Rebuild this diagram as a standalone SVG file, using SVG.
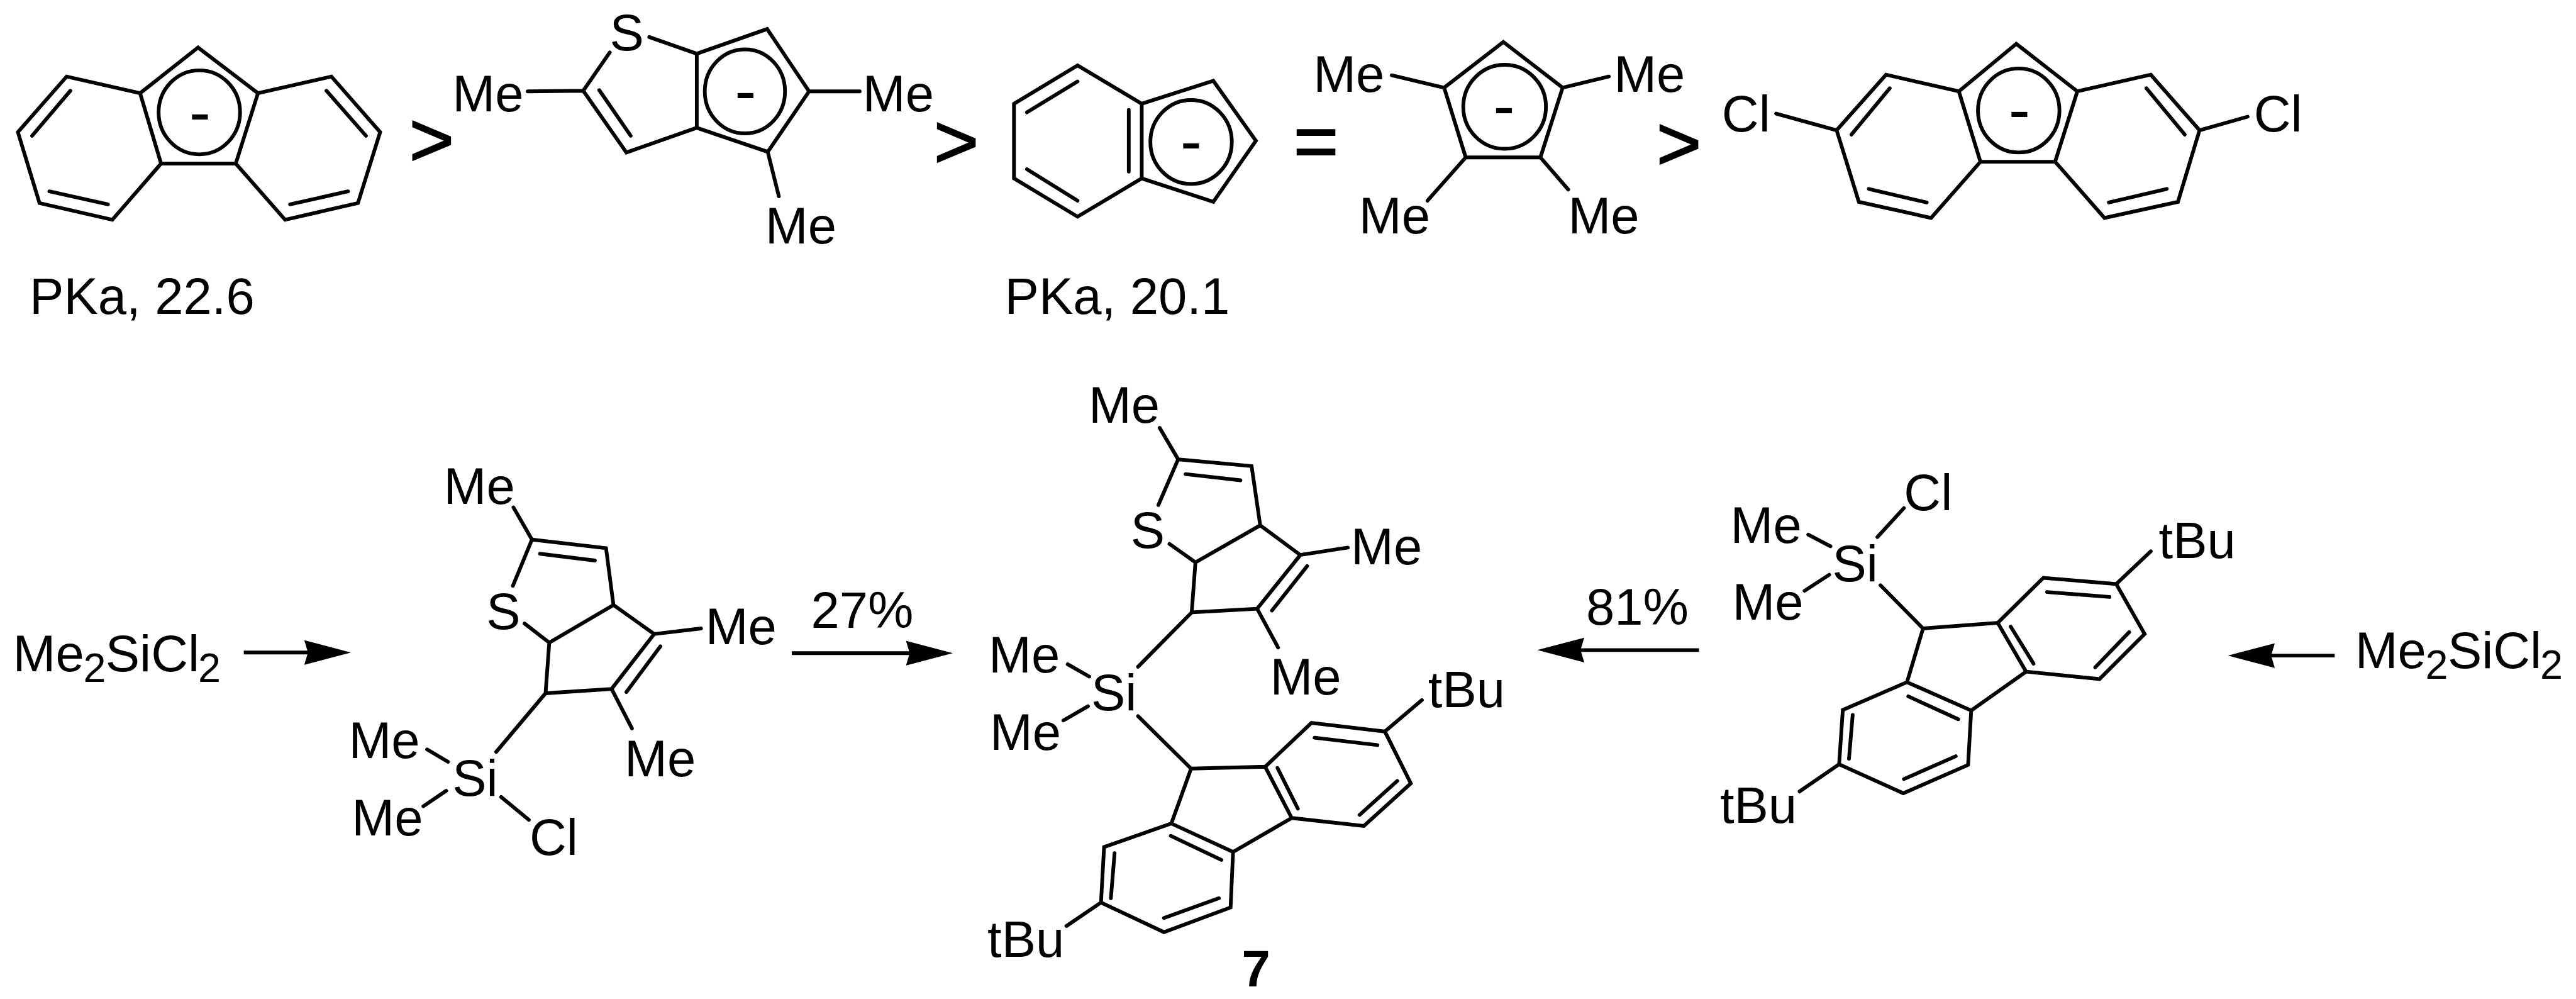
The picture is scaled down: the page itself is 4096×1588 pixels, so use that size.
<svg xmlns="http://www.w3.org/2000/svg" width="4096" height="1588" viewBox="0 0 4096 1588">
<style>
text{font-family:"Liberation Sans",Arial,sans-serif;font-size:83px;fill:#000}
.sub{font-size:66px}
.b{font-weight:bold}
.op{font-size:125px;stroke:#000;stroke-width:2}
.minus{font-size:105px;text-anchor:middle}
.bond{fill:none;stroke:#000;stroke-width:6;stroke-linecap:round;stroke-linejoin:miter;stroke-miterlimit:6}
.ring{fill:none;stroke:#000;stroke-width:6}
.arrow{stroke:#000;stroke-width:6;fill:none;marker-end:url(#head)}
</style>
<defs>
<marker id="head" markerUnits="userSpaceOnUse" viewBox="0 0 76 40" refX="7" refY="20" markerWidth="76" markerHeight="40" orient="auto"><path d="M76,20 L0,0 L6,20 L0,40 Z" fill="#000"/></marker>
</defs>
<rect width="4096" height="1588" fill="#fff"/>
<g transform="scale(0.98131)">
<g id="fluorenyl-anion">
<path class="bond" d="M321,77 L418,151 L382,265 L261,265 L227,151 Z M227,151 L108,124 L29,214 L64,329 L182,356 L261,265 M418,151 L537,124 L616,214 L580,329 L462,356 L382,265 M114,147 L52,220 M80,310 L175,331 M529,147 L593,220 M564,310 L470,331"/>
<ellipse class="ring" cx="323" cy="182" rx="66" ry="68"/>
<text class="minus" x="324" y="218">-</text>
<text x="48" y="509">PKa, 22.6</text>
</g>
<g id="gt-1"><text class="op" x="663" y="269">&gt;</text></g>
<g id="thienyl-anion">
<path class="bond" d="M988,85 L945,147 L1015,247 L1129,207 L1129,87 L1052,60 M1129,207 L1244,246 L1311,148 L1243,47 L1129,87 M945,147 L855,148 M971,146 L1022,220 M1311,148 L1393,148 M1244,246 L1262,318"/>
<ellipse class="ring" cx="1207" cy="148" rx="65" ry="68"/>
<text class="minus" x="1208" y="183">-</text>
<text x="988" y="82">S</text>
<text x="733" y="180">Me</text>
<text x="1398" y="180">Me</text>
<text x="1240" y="394">Me</text>
</g>
<g id="gt-2"><text class="op" x="1513" y="272">&gt;</text></g>
<g id="indenyl-anion">
<path class="bond" d="M1746,106 L1643,168 L1643,289 L1746,351 L1850,289 L1850,168 Z M1850,168 L1966,131 L2035,228 L1966,327 L1850,289 M1746,132 L1664,182 M1664,274 L1746,325 M1829,178 L1829,278"/>
<ellipse class="ring" cx="1930" cy="230" rx="66" ry="68"/>
<text class="minus" x="1930" y="265">-</text>
<text x="1628" y="509">PKa, 20.1</text>
</g>
<g id="equals"><text class="op" x="2096" y="272">=</text></g>
<g id="cp-anion">
<path class="bond" d="M2436,68 L2532,142 L2496,255 L2375,255 L2340,142 Z M2340,142 L2255,122 M2532,142 L2607,124 M2375,255 L2313,325 M2496,255 L2541,307"/>
<ellipse class="ring" cx="2438" cy="173" rx="67" ry="68"/>
<text class="minus" x="2437" y="208">-</text>
<text x="2128" y="149">Me</text>
<text x="2615" y="149">Me</text>
<text x="2202" y="378">Me</text>
<text x="2541" y="378">Me</text>
</g>
<g id="gt-3"><text class="op" x="2684" y="275">&gt;</text></g>
<g id="dichlorofluorenyl-anion">
<path class="bond" d="M3267,71 L3366,148 L3330,262 L3209,262 L3174,148 Z M3174,148 L3056,121 L2976,211 L3012,327 L3129,353 L3209,262 M3366,148 L3485,121 L3564,211 L3529,327 L3410,353 L3330,262 M2976,211 L2878,184 M3564,211 L3642,189 M3062,143 L3000,218 M3028,306 L3122,328 M3478,143 L3540,218 M3511,306 L3417,328"/>
<ellipse class="ring" cx="3271" cy="179" rx="66" ry="68"/>
<text class="minus" x="3272" y="214">-</text>
<text x="2790" y="213">Cl</text>
<text x="3652" y="213">Cl</text>
</g>
<g id="reagent-left"><text x="21" y="1087">Me<tspan class="sub" x="135" y="1105">2</tspan><tspan x="171" y="1087">SiCl</tspan><tspan class="sub" x="321" y="1105">2</tspan></text></g>
<g id="chlorosilane-left">
<path class="bond" d="M832,822 L862,874 L982,888 L994,980 L890,1041 L884,1123 L991,1116 L1060,1027 L994,980 M862,874 L831,949 M850,1010 L890,1041 M875,897 L964,908 M1060,1027 L1136,1018 M1070,1047 L1015,1121 M991,1116 L1024,1180 M884,1123 L804,1218 M692,1214 L726,1234 M723,1281 L686,1306 M812,1291 L857,1328"/>
<text x="719" y="816">Me</text>
<text x="788" y="1019">S</text>
<text x="1143" y="1044">Me</text>
<text x="1012" y="1257">Me</text>
<text x="733" y="1289">Si</text>
<text x="565" y="1228">Me</text>
<text x="570" y="1353">Me</text>
<text x="858" y="1385">Cl</text>
</g>
<g id="compound-7">
<path class="bond" d="M1879,693 L1909,744 L2028,755 L2042,851 L1937,911 L1931,992 L2037,986 L2107,899 L2042,851 M1909,744 L1877,818 M1895,881 L1937,911 M1921,768 L2010,778 M2107,899 L2184,887 M2118,917 L2061,989 M2037,986 L2071,1049 M1931,992 L1844,1080 M1730,1076 L1765,1096 M1763,1144 L1723,1167 M1844,1160 L1930,1245 L2050,1242 L2093,1325 L1998,1380 L1898,1334 L1930,1245 M2070,1244 L2103,1310 M1897,1354 L1979,1393 M2050,1242 L2125,1171 L2244,1185 L2286,1269 L2210,1338 L2093,1325 M2130,1195 L2232,1207 M2264,1265 L2203,1320 M2244,1185 L2304,1134 M1898,1334 L1789,1372 L1784,1462 L1886,1510 L1994,1470 L1998,1380 M1806,1382 L1800,1455 M1886,1487 L1975,1455 M1784,1462 L1728,1500"/>
<text x="1764" y="685">Me</text>
<text x="1832" y="888">S</text>
<text x="2189" y="914">Me</text>
<text x="2058" y="1125">Me</text>
<text x="1768" y="1151">Si</text>
<text x="1602" y="1089">Me</text>
<text x="1604" y="1215">Me</text>
<text x="2314" y="1145">tBu</text>
<text x="1600" y="1550">tBu</text>
<text class="b" x="2012" y="1598">7</text>
</g>
<g id="chlorosilane-right">
<path class="bond" d="M3085,823 L3042,870 M2930,866 L2966,885 M2964,931 L2924,957 M3047,948 L3116,1018 L3237,1009 L3283,1088 L3194,1151 L3090,1105 L3116,1018 M3258,1015 L3295,1075 M3092,1128 L3173,1165 M3237,1009 L3311,936 L3429,946 L3475,1027 L3402,1100 L3283,1088 M3317,959 L3418,967 M3450,1024 L3395,1081 M3429,946 L3485,893 M3090,1105 L2986,1150 L2980,1238 L3084,1285 L3189,1239 L3194,1151 M3002,1158 L2996,1229 M3085,1262 L3169,1225 M2980,1238 L2916,1282"/>
<text x="3085" y="826">Cl</text>
<text x="2969" y="942">Si</text>
<text x="2804" y="879">Me</text>
<text x="2807" y="1004">Me</text>
<text x="3498" y="904">tBu</text>
<text x="2787" y="1333">tBu</text>
</g>
<g id="reagent-right"><text x="3816" y="1082">Me<tspan class="sub" x="3930" y="1100">2</tspan><tspan x="3966" y="1082">SiCl</tspan><tspan class="sub" x="4116" y="1100">2</tspan></text></g>
<g id="connectors">
<line class="arrow" x1="395" y1="1057" x2="500" y2="1057"/>
<line class="arrow" x1="1283" y1="1058" x2="1475" y2="1058"/>
<line class="arrow" x1="2753" y1="1053" x2="2560" y2="1053"/>
<line class="arrow" x1="3783" y1="1062" x2="3679" y2="1062"/>
</g>
<g id="yields">
<text x="1314" y="1017">27%</text>
<text x="2570" y="1012">81%</text>
</g>
</g>
</svg>
